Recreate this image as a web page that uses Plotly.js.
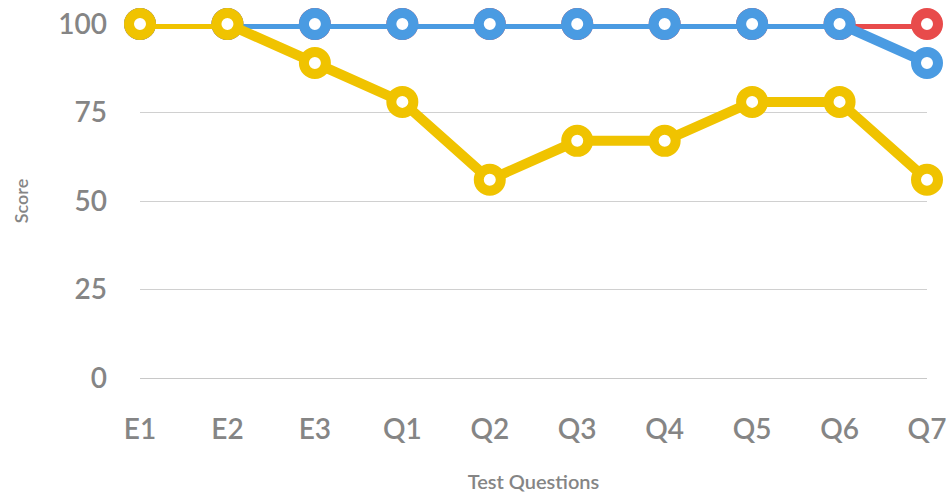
<!DOCTYPE html>
<html><head><meta charset="utf-8">
<script src="https://cdn.plot.ly/plotly-3.0.1.min.js"></script>
<style>html,body{margin:0;padding:0;background:#fff}#chart{width:951px;height:495px}</style>
</head><body><div id="chart"></div>
<script>
const categories = ["E1","E2","E3","Q1","Q2","Q3","Q4","Q5","Q6","Q7"];
const redValues = [100,100,100,100,100,100,100,100,100,100];
const blueValues = [100,100,100,100,100,100,100,100,100,89];
const yellowValues = [100,100,89,78,56,67,67,78,78,56];
const yTicks = [0,25,50,75,100];

function series(y, color) {
  return {
    x: categories, y: y, type: "scatter", mode: "lines+markers",
    line: {color: color, width: 10},
    marker: {symbol: "circle", size: 22, color: "#ffffff", line: {color: color, width: 10}},
    cliponaxis: false, hoverinfo: "skip", showlegend: false
  };
}
const data = [series(redValues, "#E84B4B"), series(blueValues, "#4A9BE2"), series(yellowValues, "#F0C300")];
const layout = {
  width: 951, height: 495,
  margin: {l: 140, r: 24, t: 24, b: 117},
  paper_bgcolor: "#fff", plot_bgcolor: "#fff",
  font: {family: "Lato, 'Open Sans', sans-serif", color: "#888"},
  xaxis: {
    type: "category", range: [0, 9], showgrid: false, zeroline: false, showline: false,
    ticks: "", tickfont: {size: 28, color: "#858585", weight: 600}, ticklabelstandoff: 32,
    title: {text: "Test Questions", font: {size: 20, color: "#858585", weight: 600}, standoff: 30}
  },
  yaxis: {
    range: [0, 100], tickvals: yTicks, showgrid: true, gridcolor: "#d0d0d0", gridwidth: 1,
    zeroline: true, zerolinecolor: "#c8c8c8", zerolinewidth: 1, showline: false,
    ticks: "", tickfont: {size: 28, color: "#858585", weight: 600}, ticklabelstandoff: 32,
    title: {text: "Score", font: {size: 18, color: "#858585", weight: 600}, standoff: 24}
  }
};
Plotly.newPlot("chart", data, layout, {staticPlot: true});
</script></body></html>
